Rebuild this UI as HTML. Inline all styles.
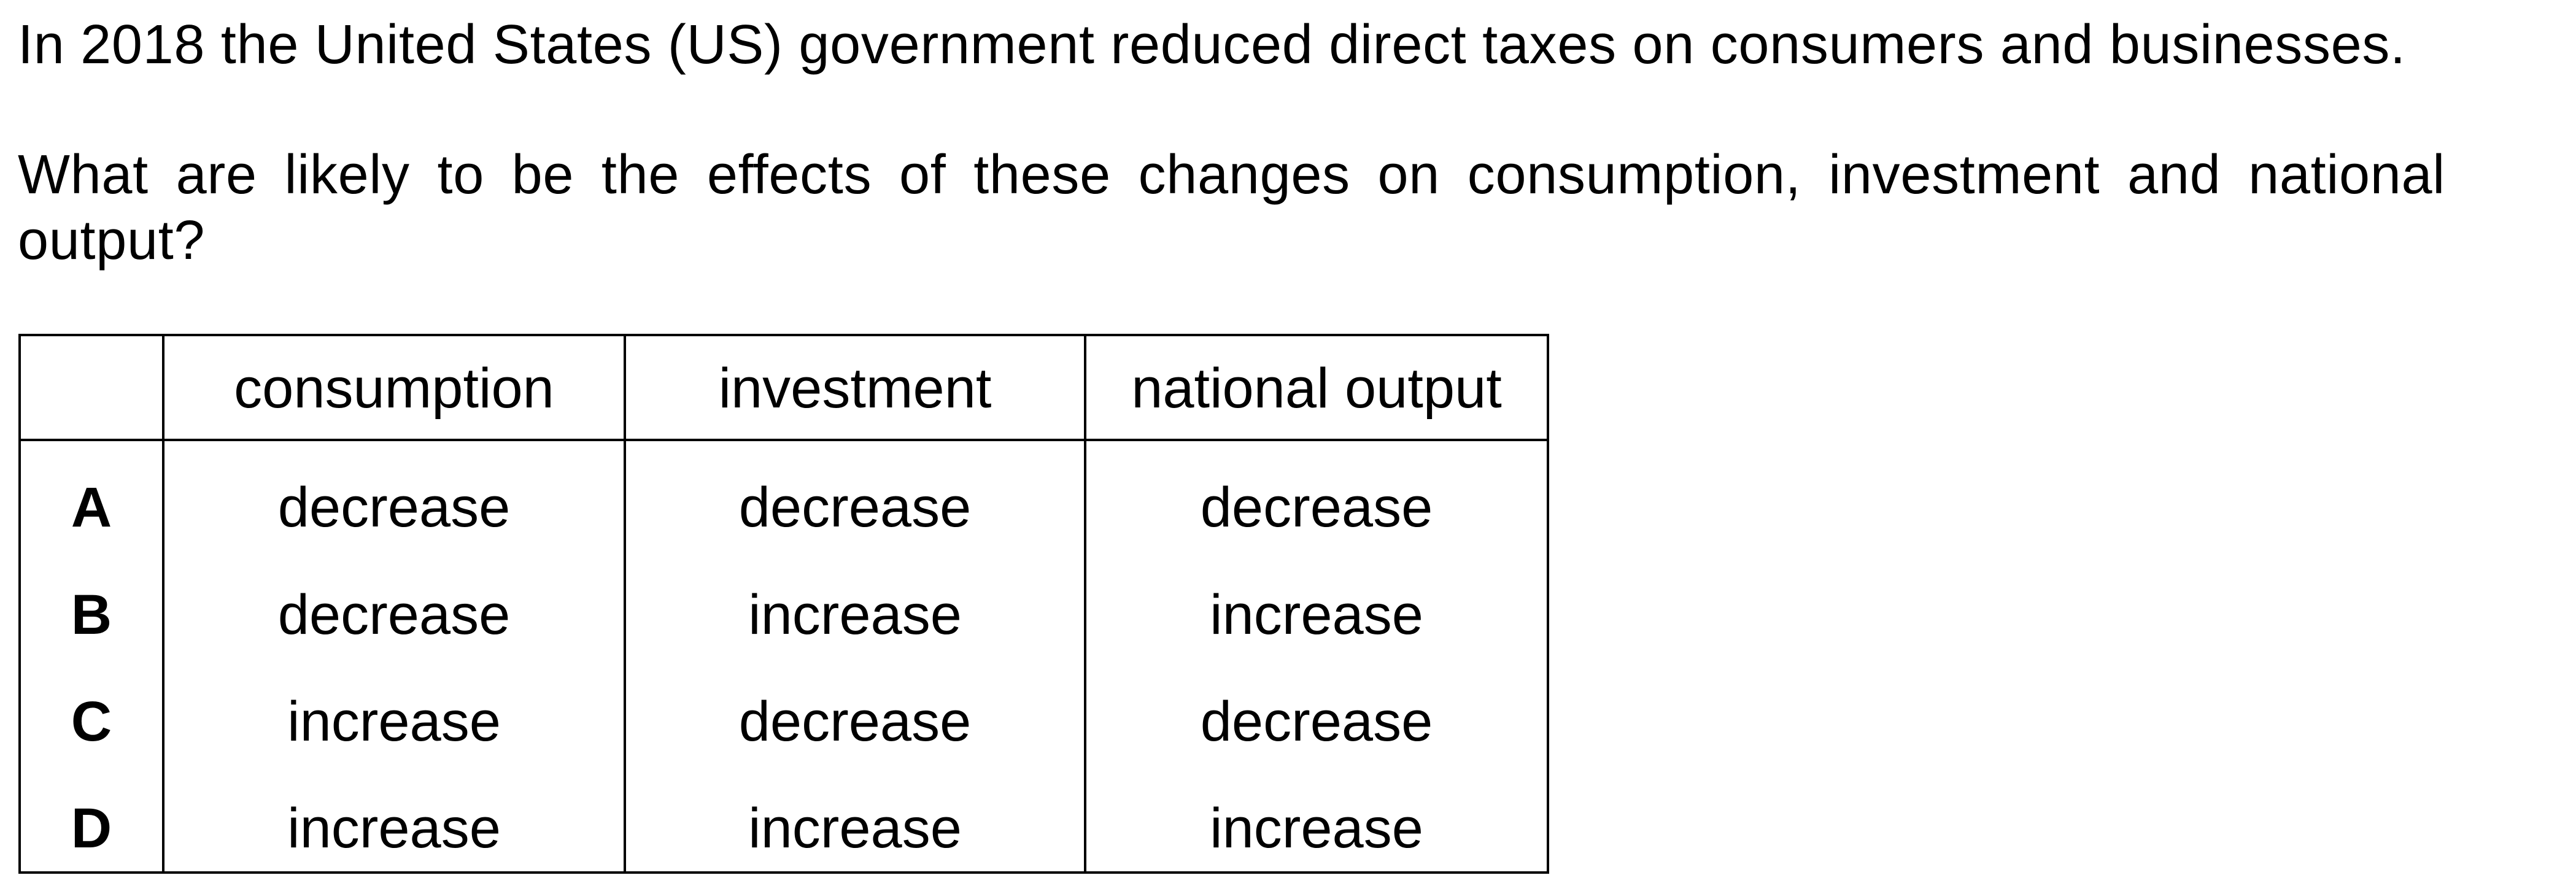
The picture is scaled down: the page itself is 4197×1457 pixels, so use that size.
<!DOCTYPE html>
<html><head><meta charset="utf-8"><style>
html,body{margin:0;padding:0;background:#fff;}
body{width:4197px;height:1457px;position:relative;overflow:hidden;font-family:"Liberation Sans",Arial,sans-serif;color:#000;}
.t{position:absolute;font-size:90px;line-height:90px;white-space:nowrap;letter-spacing:0.7px;}
.c{position:absolute;font-size:92px;line-height:92px;text-align:center;white-space:nowrap;}
.b{font-weight:bold;}
.ln{position:absolute;background:#000;}
</style></head><body>
<div class="t" style="left:29px;top:28px;">In 2018 the United States (US) government reduced direct taxes on consumers and businesses.</div>
<div class="t" style="left:29px;top:240px;width:3955px;text-align:justify;text-align-last:justify;">What are likely to be the effects of these changes on consumption, investment and national</div>
<div class="t" style="left:29px;top:347px;">output?</div>

<div>
<div class="ln" style="left:30px;top:544px;width:2494px;height:4px;"></div>
<div class="ln" style="left:30px;top:715px;width:2494px;height:4px;"></div>
<div class="ln" style="left:30px;top:1420px;width:2494px;height:4px;"></div>
<div class="ln" style="left:30px;top:544px;width:4px;height:880px;"></div>
<div class="ln" style="left:264px;top:544px;width:4px;height:880px;"></div>
<div class="ln" style="left:1016px;top:544px;width:4px;height:880px;"></div>
<div class="ln" style="left:1766px;top:544px;width:4px;height:880px;"></div>
<div class="ln" style="left:2520px;top:544px;width:4px;height:880px;"></div>

<div class="c" style="left:268px;width:748px;top:587px;">consumption</div>
<div class="c" style="left:1020px;width:746px;top:587px;">investment</div>
<div class="c" style="left:1770px;width:750px;top:587px;">national output</div>

<div class="c b" style="left:34px;width:230px;top:781px;">A</div>
<div class="c" style="left:268px;width:748px;top:781px;">decrease</div>
<div class="c" style="left:1020px;width:746px;top:781px;">decrease</div>
<div class="c" style="left:1770px;width:750px;top:781px;">decrease</div>

<div class="c b" style="left:34px;width:230px;top:956px;">B</div>
<div class="c" style="left:268px;width:748px;top:956px;">decrease</div>
<div class="c" style="left:1020px;width:746px;top:956px;">increase</div>
<div class="c" style="left:1770px;width:750px;top:956px;">increase</div>

<div class="c b" style="left:34px;width:230px;top:1130px;">C</div>
<div class="c" style="left:268px;width:748px;top:1130px;">increase</div>
<div class="c" style="left:1020px;width:746px;top:1130px;">decrease</div>
<div class="c" style="left:1770px;width:750px;top:1130px;">decrease</div>

<div class="c b" style="left:34px;width:230px;top:1304px;">D</div>
<div class="c" style="left:268px;width:748px;top:1304px;">increase</div>
<div class="c" style="left:1020px;width:746px;top:1304px;">increase</div>
<div class="c" style="left:1770px;width:750px;top:1304px;">increase</div>
</div>
</body></html>
